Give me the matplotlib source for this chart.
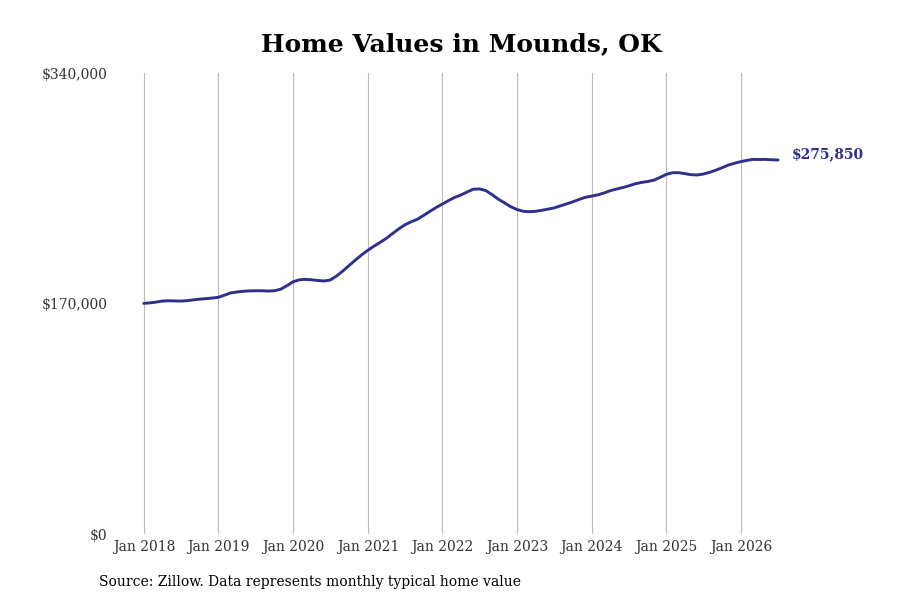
import matplotlib
matplotlib.use("Agg")
import matplotlib.pyplot as plt
import matplotlib.dates as mdates
import pandas as pd

# monthly typical home value, Jan 2018 .. Jul 2026
values = [
    170100, 170500, 171000, 171800, 172000, 171900, 171800, 172100, 172700, 173200, 173600, 174000,
    174600, 176200, 177800, 178500, 179000, 179300, 179400, 179400, 179200, 179400, 180500, 183000,
    186000, 187500, 187800, 187500, 187000, 186600, 187300, 190300, 194000, 198000, 202000, 205800,
    209300, 212400, 215000, 218000, 221500, 225000, 228000, 230300, 232200, 235000, 238000, 240800,
    243400, 246000, 248200, 250000, 252200, 254300, 254500, 253300, 250300, 247000, 244200, 241400,
    239300, 238000, 237700, 238000, 238700, 239600, 240500, 242000, 243500, 245000, 246800, 248300,
    249200, 250200, 251500, 253200, 254400, 255500, 256800, 258300, 259300, 260000, 261000, 263000,
    265300, 266500, 266500, 265800, 265000, 264800, 265500, 266800, 268400, 270200, 272200, 273500,
    274700, 275600, 276300, 276200, 276300, 276000, 275850,
]
start_month = "2018-01-01"
y_ticks = [0, 170000, 340000]
y_tick_labels = ["$0", "$170,000", "$340,000"]
x_tick_years = list(range(2018, 2027))
title = "Home Values in Mounds, OK"
source = "Source: Zillow. Data represents monthly typical home value"
end_label = "$275,850"

dates = pd.date_range(start_month, periods=len(values), freq="MS")
line_color = "#2f2f8c"

plt.rcParams["font.family"] = ["DejaVu Serif"]

fig = plt.figure(figsize=(9, 6), dpi=100)
ax = fig.add_axes([0.122, 0.11, 0.756, 0.7683])

ax.plot(dates, values, color=line_color, linewidth=2.1, solid_capstyle="round")

# x range: a little before Jan 2018, a little past the last point
t0 = mdates.date2num(pd.Timestamp(start_month))
month_days = 365.25 / 12
ax.set_xlim(t0 - 5.47 * month_days, t0 + 103.9 * month_days)
ax.set_ylim(0, 340000)

xt = [pd.Timestamp(f"{y}-01-01") for y in x_tick_years]
ax.set_xticks(xt)
ax.set_xticklabels([f"Jan {y}" for y in x_tick_years], fontsize=10, color="#333333")
ax.set_yticks(y_ticks)
ax.set_yticklabels(y_tick_labels, fontsize=10, color="#333333")
ax.tick_params(axis="both", length=0)
ax.tick_params(axis="x", pad=4)
ax.tick_params(axis="y", pad=1.5)

ax.grid(axis="x", color="#bbbbbb", linewidth=0.8)
ax.grid(axis="y", visible=False)
for s in ax.spines.values():
    s.set_visible(False)

ax.annotate(end_label, xy=(dates[-1], values[-1]), xytext=(10, 4),
            textcoords="offset points", ha="left", va="center",
            fontsize=10, fontweight="bold", color=line_color)

fig.text(0.513, 0.926, title, ha="center", va="center", fontsize=18, fontweight="bold")
fig.text(0.11, 0.03, source, ha="left", va="center", fontsize=10)

fig.savefig("out.png", dpi=100)
